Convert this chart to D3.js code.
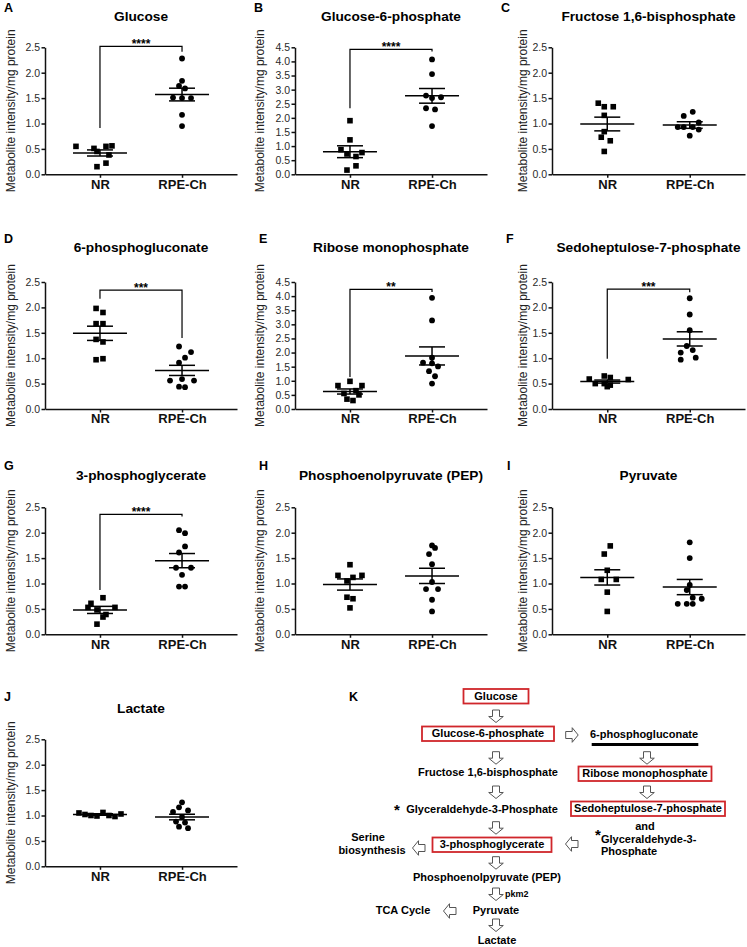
<!DOCTYPE html>
<html>
<head>
<meta charset="utf-8">
<script src="https://cdn.jsdelivr.net/npm/d3@7/dist/d3.min.js"></script>
<style>
body { margin: 0; background: #fff; }
svg { display: block; font-family: "Liberation Sans", Arial, sans-serif; }
</style>
</head>
<body>
<svg id="fig" width="747" height="947"></svg>
<script>
// values, one entry per panel A..J
var letters = ["A","B","C","D","E","F","G","H","I","J"];
var titles = ["Glucose","Glucose-6-phosphate","Fructose 1,6-bisphosphate","6-phosphogluconate",
  "Ribose monophosphate","Sedoheptulose-7-phosphate","3-phosphoglycerate",
  "Phosphoenolpyruvate (PEP)","Pyruvate","Lactate"];
var groups = ["NR","RPE-Ch"];
var yMax = [2.5, 4.5, 2.5, 2.5, 4.5, 2.5, 2.5, 2.5, 2.5, 2.5];

var nrValues = [
  [0.55, 0.51, 0.55, 0.56, 0.45, 0.38, 0.22, 0.15],
  [1.90, 1.22, 0.87, 0.72, 0.63, 0.77, 0.30, 0.15],
  [1.40, 1.33, 1.33, 1.16, 0.84, 0.73, 0.66, 0.45],
  [1.98, 1.90, 1.68, 1.68, 1.37, 1.32, 0.97, 0.99],
  [0.98, 0.83, 0.83, 0.65, 0.55, 0.50, 0.35, 0.30],
  [0.59, 0.65, 0.62, 0.58, 0.50, 0.50, 0.47, 0.44],
  [0.72, 0.61, 0.53, 0.48, 0.53, 0.39, 0.34, 0.20],
  [1.37, 1.16, 1.16, 1.12, 1.05, 0.73, 0.70, 0.52],
  [1.74, 1.58, 1.26, 1.08, 1.08, 0.83, 0.45],
  [1.05, 1.02, 1.00, 0.99, 1.06, 1.00, 0.98, 1.03]
];
var rpeValues = [
  [2.28, 1.84, 1.74, 1.69, 1.51, 1.50, 1.50, 1.17, 0.95],
  [4.07, 3.55, 2.79, 2.70, 2.73, 2.34, 2.30, 1.71],
  [1.23, 1.15, 1.02, 0.93, 0.93, 0.93, 0.88, 0.76],
  [1.23, 1.12, 1.01, 0.91, 0.56, 0.59, 0.56, 0.44, 0.43],
  [3.94, 3.14, 1.82, 1.64, 1.62, 1.51, 1.34, 1.16, 0.90],
  [2.18, 1.86, 1.55, 1.24, 1.16, 1.11, 0.97, 1.01],
  [2.05, 1.99, 1.73, 1.61, 1.31, 1.31, 1.17, 0.94, 0.94],
  [1.75, 1.70, 1.58, 1.38, 1.03, 0.89, 0.89, 0.68, 0.45],
  [1.81, 1.50, 0.97, 0.87, 0.72, 0.70, 0.60, 0.60, 0.60],
  [1.26, 1.16, 1.10, 1.07, 0.97, 0.88, 0.86, 0.78, 0.75]
];
// horizontal scatter slot of each point (GraphPad column spread)
var nrSpread = [
  [-8, -2, 2, 4, -1, 3, 2, -1],
  [0, 0, -3, -1, 2, 4, 2, -1],
  [-3, -1, 2, -1, -1, -2, 1, -1],
  [-1.3, 1, -1.3, 1, -1.3, 1, -1.3, 1],
  [0, -4, 4, 2, -2, 3, -1, 1],
  [-6, -1, 1, 7, -4, -1, 1, 0],
  [1, -3, -4, -1, 5, 2, 1, -1],
  [0, -4, 4, 1, -1, -1, 1, 0],
  [1, -1, 0, -2, 3, 0, 0],
  [-7, -5, -3, -1, 1, 3, 5, 7]
];
var rpeSpread = [
  [0, 0, -1, 1, -3, 0, 3, 0, 0],
  [0, 0, -2, 0, 3, -2, 1, 0],
  [1, -2, 3, -4, -2, 1, 3, 0],
  [-1, 3, 1, -1, -4, 0, 4, -1, 1],
  [0, 0, 0, -3, 0, 2, -1, 1, 0],
  [0, 0, 0, -1, 1, -3, -3, 2],
  [-1, 1, 1, -1, -2, 3, 0, -1, 1],
  [0, 1, -1, 0, 0, -2, 2, 0, 0],
  [0, 0, 0, -1, 1, 4, -4, -1, 1],
  [0, -1, 2, -3, 0, -2, 1, -1, 2]
];
var nrMean  = [0.42, 0.80, 0.99, 1.49, 0.62, 0.54, 0.48, 0.98, 1.12, 1.02];
var nrSem   = [0.06, 0.21, 0.135, 0.14, 0.09, 0.03, 0.07, 0.11, 0.15, 0.015];
var rpeMean = [1.57, 2.78, 0.97, 0.76, 1.88, 1.38, 1.45, 1.15, 0.93, 0.97];
var rpeSem  = [0.125, 0.26, 0.065, 0.10, 0.32, 0.14, 0.14, 0.15, 0.15, 0.055];

var sigStars = ["****", "****", "", "***", "**", "***", "****", "", "", ""];
var sigTop   = [2.52, 4.43, null, 2.34, 4.24, 2.36, 2.36, null, null, null];
var sigLeft  = [0.91, 2.34, null, 2.17, 1.13, 0.99, 0.87, null, null, null];
var sigRight = [2.41, 4.35, null, 1.40, 4.15, 2.30, 2.32, null, null, null];

// layout of the grid
var colLeft = [45, 295, 552];
var colRight = [237, 487, 745];
var yLabelX = [15, 264, 527];
var letterX = [4, 254, 501, 4, 259, 506, 4, 259, 507, 4];
var rowTop = [47.3, 282, 507.3, 739.3];
var rowTitle = [21, 252, 480, 713];
var rowLetter = [12, 243, 470, 701];
var plotH = 127;
var slot = 3;

var svg = d3.select("#fig");

letters.forEach(function(letter, i) {
  var row = Math.floor(i / 3), col = i % 3;
  var left = colLeft[col], right = colRight[col];
  var top = rowTop[row], bottom = top + plotH;
  var g = svg.append("g");

  var y = d3.scaleLinear().domain([0, yMax[i]]).range([bottom, top]);
  var x = d3.scalePoint().domain(groups).range([left, right]).padding(0.67);

  // y axis
  var ya = g.append("g")
    .attr("transform", "translate(" + left + ",0)")
    .call(d3.axisLeft(y)
      .tickValues(d3.range(0, yMax[i] + 0.01, 0.5))
      .tickFormat(d3.format(".1f"))
      .tickSize(3.5).tickSizeOuter(0).tickPadding(1.5));
  ya.selectAll("text").style("font-size", "10.5px").attr("fill", "#2a2a2a")
    .style("font-family", "Liberation Sans, Arial, sans-serif");

  // x axis
  var xa = g.append("g")
    .attr("transform", "translate(0," + bottom + ")")
    .call(d3.axisBottom(x).tickSize(3.5).tickSizeOuter(0).tickPadding(1.5));
  xa.selectAll("text").style("font-size", "13px").style("font-weight", "bold")
    .style("font-family", "Liberation Sans, Arial, sans-serif").attr("fill", "#111");

  g.selectAll(".domain, .tick line").attr("stroke", "#111").attr("stroke-width", 1.5);

  // titles and labels
  g.append("text").attr("x", (left + right) / 2).attr("y", rowTitle[row])
    .attr("text-anchor", "middle").style("font-size", "13.7px").style("font-weight", "bold")
    .text(titles[i]);
  svg.append("text").attr("x", letterX[i]).attr("y", rowLetter[row])
    .style("font-size", "12.5px").style("font-weight", "bold").text(letter);
  g.append("text")
    .attr("transform", "translate(" + yLabelX[col] + "," + (top + bottom) / 2 + ") rotate(-90)")
    .attr("text-anchor", "middle").style("font-size", "12px").attr("fill", "#222")
    .text("Metabolite intensity/mg protein");

  // scatter points
  var cx0 = x("NR"), cx1 = x("RPE-Ch");
  g.selectAll(".sq").data(nrValues[i]).enter().append("rect")
    .attr("x", function(d, k) { return cx0 + nrSpread[i][k] * slot - 2.8; })
    .attr("y", function(d) { return y(d) - 2.8; })
    .attr("width", 5.6).attr("height", 5.6).attr("fill", "#000");
  g.selectAll(".dot").data(rpeValues[i]).enter().append("circle")
    .attr("cx", function(d, k) { return cx1 + rpeSpread[i][k] * slot; })
    .attr("cy", function(d) { return y(d); })
    .attr("r", 2.9).attr("fill", "#000");

  // mean and SEM
  [[cx0, nrMean[i], nrSem[i]], [cx1, rpeMean[i], rpeSem[i]]].forEach(function(m) {
    var c = m[0];
    g.append("line").attr("x1", c - 27).attr("x2", c + 27)
      .attr("y1", y(m[1])).attr("y2", y(m[1]));
    g.append("line").attr("x1", c - 13).attr("x2", c + 13)
      .attr("y1", y(m[1] + m[2])).attr("y2", y(m[1] + m[2]));
    g.append("line").attr("x1", c - 13).attr("x2", c + 13)
      .attr("y1", y(m[1] - m[2])).attr("y2", y(m[1] - m[2]));
    g.append("line").attr("x1", c).attr("x2", c)
      .attr("y1", y(m[1] + m[2])).attr("y2", y(m[1] - m[2]));
  });
  g.selectAll("line").filter(function() { return !this.closest(".tick"); })
    .attr("stroke", "#000").attr("stroke-width", 1.5);

  // significance bracket
  if (sigTop[i] !== null) {
    g.append("path")
      .attr("d", "M" + cx0 + "," + y(sigLeft[i]) + "V" + y(sigTop[i]) +
        "H" + cx1 + "V" + y(sigRight[i]))
      .attr("fill", "none").attr("stroke", "#000").attr("stroke-width", 1.2);
    g.append("text").attr("x", (cx0 + cx1) / 2).attr("y", y(sigTop[i]) + 1.5)
      .attr("text-anchor", "middle").style("font-size", "12px").style("font-weight", "bold")
      .text(sigStars[i]);
  }
});

// panel K: pathway schematic
var k = svg.append("g").style("font-size", "11px").style("font-weight", "bold");
k.append("text").attr("x", 349).attr("y", 701).style("font-size", "12.5px").text("K");

var nodeText = ["Glucose", "Glucose-6-phosphate", "6-phosphogluconate", "Fructose 1,6-bisphosphate",
  "Ribose monophosphate", "Glyceraldehyde-3-Phosphate", "Sedoheptulose-7-phosphate", "and",
  "3-phosphoglycerate", "Serine", "biosynthesis", "Phosphoenolpyruvate (PEP)", "Pyruvate",
  "TCA Cycle", "Lactate"];
var nodeX = [496, 488, 644, 488, 645, 482, 648, 645, 492, 368, 372, 487, 496, 403, 497];
var nodeY = [699.5, 737, 738, 776, 777, 813, 812, 830, 848, 841, 853.5, 881, 914, 914, 944];
var boxWidth = [65, 132, 0, 0, 133, 0, 154, 0, 119, 0, 0, 0, 0, 0, 0];

nodeText.forEach(function(t, i) {
  if (boxWidth[i] > 0) {
    k.append("rect").attr("x", nodeX[i] - boxWidth[i] / 2).attr("y", nodeY[i] - 10.5)
      .attr("width", boxWidth[i]).attr("height", 14.5)
      .attr("fill", "none").attr("stroke", "#d0262b").attr("stroke-width", 1.8);
  }
  k.append("text").attr("x", nodeX[i]).attr("y", nodeY[i]).attr("text-anchor", "middle").text(t);
});
k.append("text").attr("x", 601).attr("y", 843).text("Glyceraldehyde-3-");
k.append("text").attr("x", 601).attr("y", 855).text("Phosphate");
k.append("text").attr("x", 505).attr("y", 897).style("font-size", "9px").text("pkm2");
k.append("text").attr("x", 397).attr("y", 815).attr("text-anchor", "middle")
  .style("font-size", "15px").text("*");
k.append("text").attr("x", 598).attr("y", 840).attr("text-anchor", "middle")
  .style("font-size", "15px").text("*");
k.append("line").attr("x1", 591.7).attr("x2", 698.3).attr("y1", 744.5).attr("y2", 744.5)
  .attr("stroke", "#000").attr("stroke-width", 3);

// hollow block arrows: [x, y, angle]
var arrowPos = [[496, 710, 90], [496, 751.7, 90], [647, 751.7, 90], [496, 786, 90], [647, 786, 90],
  [496, 821.7, 90], [496, 856.7, 90], [496, 888, 90], [496, 919, 90],
  [565.7, 735, 0], [578, 844, 180], [425, 848, 180], [456, 911, 180]];
var arrowShape = "M0,-3.5L6.5,-3.5L6.5,-7.3L12.5,0L6.5,7.3L6.5,3.5L0,3.5Z";
k.selectAll(".arrow").data(arrowPos).enter().append("path")
  .attr("d", arrowShape)
  .attr("transform", function(d) { return "translate(" + d[0] + "," + d[1] + ") rotate(" + d[2] + ")"; })
  .attr("fill", "#fff").attr("stroke", "#555").attr("stroke-width", 1);
</script>
</body>
</html>
